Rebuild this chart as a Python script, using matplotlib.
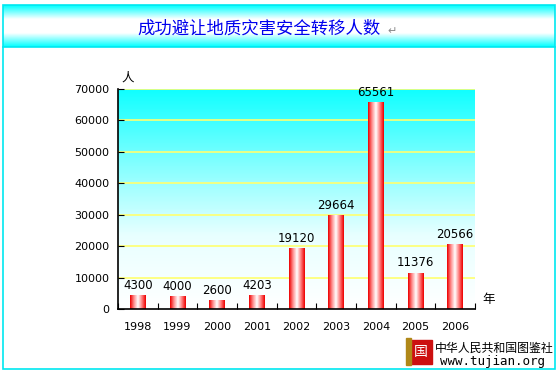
import matplotlib
matplotlib.use('Agg')
import matplotlib.pyplot as plt
import numpy as np
from matplotlib.colors import LinearSegmentedColormap
from matplotlib.patches import Rectangle

plt.rcParams['font.family'] = ['Noto Sans CJK SC', 'DejaVu Sans']

years = ['1998', '1999', '2000', '2001', '2002', '2003', '2004', '2005', '2006']
people = [4300, 4000, 2600, 4203, 19120, 29664, 65561, 11376, 20566]
title = '成功避让地质灾害安全转移人数'

fig = plt.figure(figsize=(5.6, 3.76), dpi=100)
W, H = 560, 376

# frame + title banner (pixel coords)
bg = fig.add_axes([0, 0, 1, 1])
bg.set_xlim(0, W)
bg.set_ylim(H, 0)
bg.axis('off')
banner_cmap = LinearSegmentedColormap.from_list('banner', ['#00ffff', '#ffffff', '#ffffff', '#00ffff'])
grad = np.linspace(0, 1, 100).reshape(-1, 1)
bg.imshow(grad, cmap=banner_cmap, extent=[3, 555, 47, 5], aspect='auto', zorder=0)
bg.add_patch(Rectangle((3, 5), 552, 364, fill=False, edgecolor='#00e8f0', lw=1.2, zorder=2))
bg.plot([3, 555], [47, 47], color='#00e8f0', lw=1.2, zorder=2)
bg.text(259, 29, title, color='#0000ee', fontsize=12.5, ha='center', va='center')
bg.text(387, 31, '↵', color='#888888', fontsize=8, ha='left', va='center', family='DejaVu Sans')

# logo
bg.add_patch(Rectangle((410, 340), 22, 24, color='#cc1010', zorder=3))
bg.add_patch(Rectangle((406, 338), 5, 27, color='#b08818', zorder=3))
bg.text(421, 352, '国', color='white', fontsize=10, ha='center', va='center', zorder=4)
bg.text(494, 348, '中华人民共和国图鉴社', color='black', fontsize=8.6, ha='center', va='center')
bg.text(493, 362, 'www.tujian.org', color='black', fontsize=9, ha='center', va='center',
        family='DejaVu Sans Mono')

ax = fig.add_axes([118 / W, 67 / H, 357 / W, 220 / H])
x = np.arange(len(years))
ax.set_xlim(-0.5, len(years) - 0.5)
ax.set_ylim(0, 70000)

bg_cmap = LinearSegmentedColormap.from_list('plotbg', ['#ffffff', '#e8ffff', '#80ffff', '#10ffff'])
ax.imshow(np.linspace(0, 1, 200).reshape(-1, 1), cmap=bg_cmap, origin='lower',
          extent=[-0.5, len(years) - 0.5, 0, 70000], aspect='auto', zorder=0)

for yv in range(10000, 70001, 10000):
    ax.axhline(yv, color='#ffff70', lw=1.2, zorder=1)

bar_cmap = LinearSegmentedColormap.from_list('bar', ['#ee0000', '#ff9090', '#ffffff', '#ff8080', '#ee0000'])
bw = 0.4
bars = ax.bar(x, people, width=bw, color='none', zorder=2)
for b, v in zip(bars, people):
    x0 = b.get_x()
    ax.imshow(np.linspace(0, 1, 50).reshape(1, -1), cmap=bar_cmap,
              extent=[x0, x0 + bw, 0, v], aspect='auto', zorder=2)
    ax.text(b.get_x() + bw / 2, v + 1200, str(v), ha='center', va='bottom', fontsize=8.5,
            family='DejaVu Sans')

ax.set_xticks(np.arange(-0.5, len(years), 1), minor=False)
ax.set_xticklabels([])
ax.set_xticks(x, minor=True)
ax.set_xticklabels(years, minor=True, fontsize=8, family='DejaVu Sans')
ax.tick_params(axis='x', which='minor', length=0, pad=9)
ax.tick_params(axis='x', which='major', length=4, direction='in')
ax.set_yticks(range(0, 70001, 10000))
ax.set_yticklabels([str(v) for v in range(0, 70001, 10000)], fontsize=8, family='DejaVu Sans')
ax.tick_params(axis='y', length=4, direction='in', pad=6)
for s in ['top', 'right']:
    ax.spines[s].set_visible(False)
ax.spines['left'].set_linewidth(1.2)
ax.spines['bottom'].set_linewidth(1.2)

fig.text(128 / W, 1 - 78 / H, '人', fontsize=9, ha='center', va='center')
fig.text(489 / W, 1 - 300 / H, '年', fontsize=9, ha='center', va='center')

fig.savefig('out.png', dpi=100)
